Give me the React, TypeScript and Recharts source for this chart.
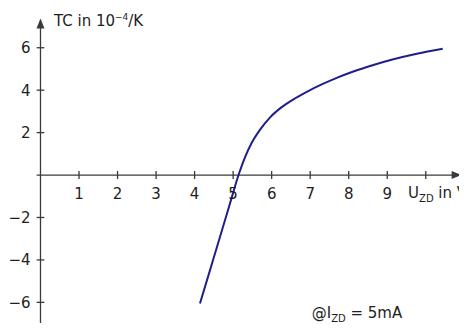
import React from 'react'
import { LineChart, Line, XAxis, YAxis, ReferenceLine, ReferenceDot } from 'recharts'

// Zener voltage (V) vs. temperature coefficient (10^-4 / K)
const uzd = [4.14, 4.4, 4.66, 4.92, 5.14, 5.31, 5.48, 5.7, 5.96, 6.26, 6.61, 6.95, 7.3, 7.69, 8.12, 8.64, 9.16, 9.77, 10.44]
const tc = [-6.05, -4.48, -2.91, -1.33, 0, 0.85, 1.51, 2.14, 2.72, 3.2, 3.62, 3.96, 4.27, 4.58, 4.88, 5.19, 5.46, 5.72, 5.95]

const xTicks = [1, 2, 3, 4, 5, 6, 7, 8, 9, 10]
const xTickLabels = ['1', '2', '3', '4', '5', '6', '7', '8', '9', '']
const yTicks = [-6, -4, -2, 2, 4, 6]
const yTickLabels = ['−6', '−4', '−2', '2', '4', '6']

const data = uzd.map((u, i) => ({ u, tc: tc[i] }))

const AXIS = '#3a3a3a'
const TEXT = '#1e1e1e'
const FONT = 15

const ArrowUp = ({ cx, cy }: any) => (
  <path d={`M${cx},${cy} L${cx - 4},${cy + 10} L${cx + 4},${cy + 10} Z`} fill={AXIS} />
)
const ArrowRight = ({ cx, cy }: any) => (
  <path d={`M${cx},${cy} L${cx - 10},${cy - 4} L${cx - 10},${cy + 4} Z`} fill={AXIS} />
)

const TitleText = ({ cx, cy }: any) => (
  <text x={cx} y={cy} fill={TEXT} fontSize={FONT}>
    TC in 10<tspan fontSize={9} dy={-6}>−4</tspan>
    <tspan dy={6}>/K</tspan>
  </text>
)
const XTitleText = ({ cx, cy }: any) => (
  <text x={cx} y={cy} fill={TEXT} fontSize={FONT}>
    U<tspan fontSize={10} dy={4}>ZD</tspan>
    <tspan dy={-4}> in V</tspan>
  </text>
)
const NoteText = ({ cx, cy }: any) => (
  <text x={cx} y={cy} fill={TEXT} fontSize={FONT}>
    @I<tspan fontSize={10} dy={4}>ZD</tspan>
    <tspan dy={-4}> = 5mA</tspan>
  </text>
)

export default function App() {
  return (
    <div style={{ margin: -8, fontFamily: 'DejaVu Sans' }}>
      <LineChart width={467} height={331} data={data} margin={{ top: 0, right: 0, bottom: 0, left: 0 }}>
        <XAxis type="number" dataKey="u" domain={[-1.051, 11.07]} allowDataOverflow hide />
        <YAxis type="number" domain={[-7.35, 8.25]} allowDataOverflow hide />

        {/* axes through the origin */}
        <ReferenceLine segment={[{ x: -0.1, y: 0 }, { x: 10.9, y: 0 }]} stroke={AXIS} strokeWidth={1.3} />
        <ReferenceLine segment={[{ x: 0, y: -7.35 }, { x: 0, y: 7.3 }]} stroke={AXIS} strokeWidth={1.3} />
        <ReferenceDot x={10.93} y={0} shape={ArrowRight} />
        <ReferenceDot x={0} y={7.38} shape={ArrowUp} />

        {xTicks.map((k, i) => (
          <ReferenceLine
            key={'x' + k}
            segment={[{ x: k, y: -0.19 }, { x: k, y: 0.19 }]}
            stroke={AXIS}
            strokeWidth={1.3}
            label={{ value: xTickLabels[i], position: 'bottom', offset: 9, fill: TEXT, fontSize: FONT }}
          />
        ))}
        {yTicks.map((k, i) => (
          <ReferenceLine
            key={'y' + k}
            segment={[{ x: -0.1, y: k }, { x: 0.1, y: k }]}
            stroke={AXIS}
            strokeWidth={1.3}
            ifOverflow="visible"
            label={{ value: yTickLabels[i], position: 'left', offset: 6, fill: TEXT, fontSize: FONT }}
          />
        ))}

        <ReferenceDot x={0.35} y={7.02} shape={TitleText} />
        <ReferenceDot x={9.54} y={-1.1} shape={XTitleText} />
        <ReferenceDot x={7.04} y={-6.74} shape={NoteText} />

        <Line
          type="monotone"
          dataKey="tc"
          stroke="#1f1f8c"
          strokeWidth={2}
          dot={false}
          isAnimationActive={false}
        />
      </LineChart>
    </div>
  )
}
